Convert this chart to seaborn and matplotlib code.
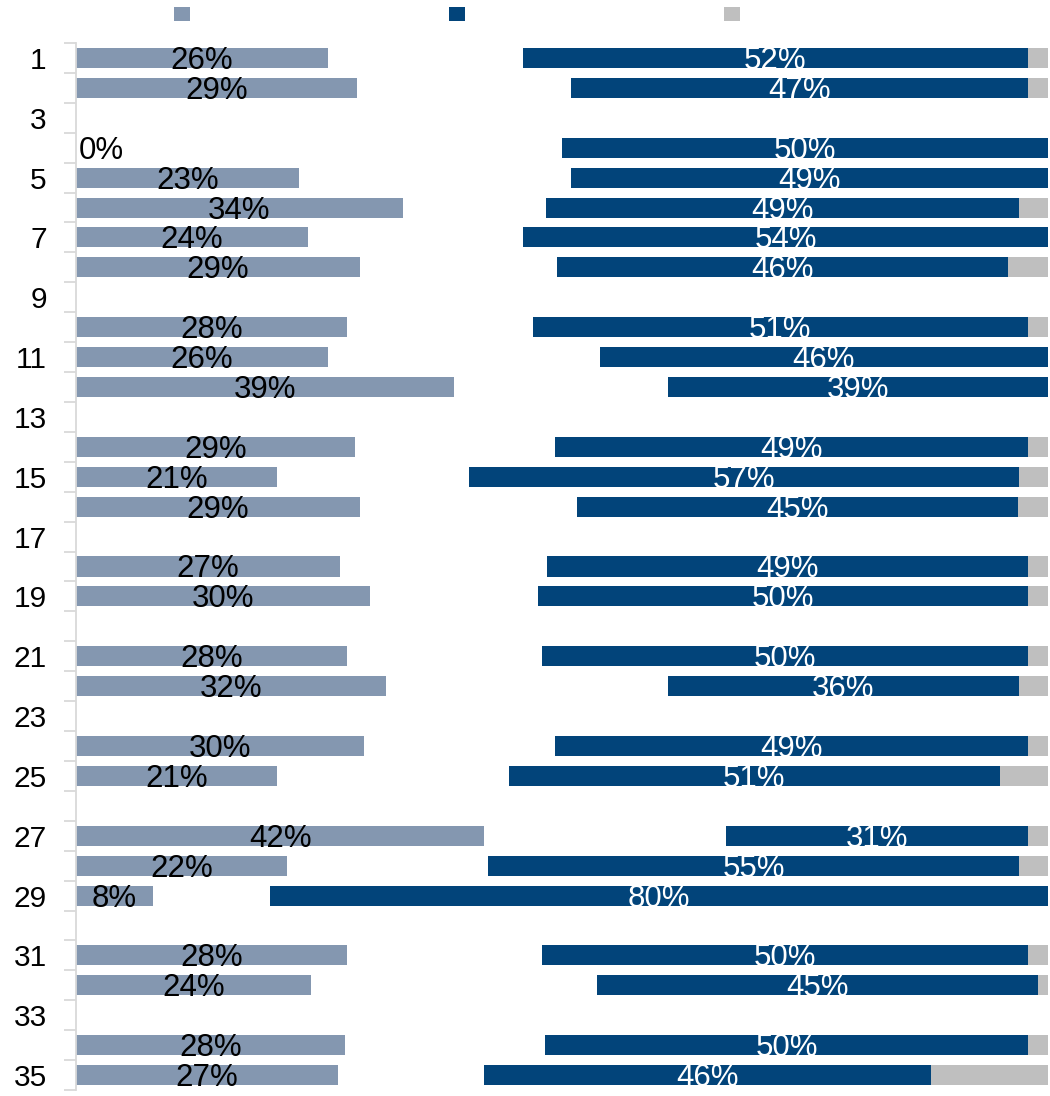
import numpy as np
import pandas as pd
import seaborn as sns
import matplotlib.pyplot as plt
from matplotlib.patches import Patch

sns.set_theme(style="white")
plt.rcParams['font.family'] = ['Liberation Sans', 'DejaVu Sans']

nan = np.nan
categories = [str(i) for i in range(1, 36)]
series_names = ["", "", ""]
slate_vals = [25.9, 28.9, nan, 0.0, 22.9, 33.6, 23.9, 29.2, nan, 27.9, 25.9, 38.9, nan,
              28.7, 20.7, 29.2, nan, 27.2, 30.2, nan, 27.9, 31.9, nan, 29.6, 20.7, nan,
              42.0, 21.7, 7.9, nan, 27.9, 24.2, nan, 27.7, 27.0]
navy_vals = [51.9, 47.0, nan, 50.0, 49.1, 48.6, 54.0, 46.4, nan, 50.9, 46.1, 39.1, nan,
             48.6, 56.6, 45.4, nan, 49.4, 50.4, nan, 50.0, 36.1, nan, 48.6, 50.6, nan,
             31.0, 54.6, 80.0, nan, 50.0, 45.4, nan, 49.6, 46.0]
grey_vals = [2.1, 2.1, nan, 0.0, 0.0, 3.0, 0.0, 4.1, nan, 2.1, 0.0, 0.0, nan,
             2.1, 3.0, 3.1, nan, 2.1, 2.1, nan, 2.1, 3.0, nan, 2.1, 4.9, nan,
             2.1, 3.0, 0.0, nan, 2.1, 1.0, nan, 2.1, 12.0]

SLATE = "#8497B0"
NAVY = "#02447A"
GREY = "#BFBFBF"
AXIS_GREY = "#D9D9D9"

df = pd.DataFrame({"cat": categories, "slate": slate_vals,
                   "navy": navy_vals, "grey": grey_vals})
plot = df.fillna(0)
navy_left = (100 - plot["grey"] - plot["navy"]).values
grey_left = (100 - plot["grey"]).values

fig = plt.figure(figsize=(10.5, 10.96), dpi=100)
ax = fig.add_axes([76 / 1050, 6 / 1096, 972 / 1050, 1047 / 1096])

common = dict(data=plot, y="cat", order=categories, orient="h", width=0.67,
              errorbar=None, saturation=1, ax=ax, linewidth=0)
sns.barplot(x="slate", color=SLATE, **common)
sns.barplot(x="navy", color=NAVY, left=navy_left, **common)
sns.barplot(x="grey", color=GREY, left=grey_left, **common)

# data labels
LABEL_SIZE = 22.5
for i, row in df.iterrows():
    if not np.isnan(row["slate"]):
        if row["slate"] == 0:
            ax.text(0.3, i + 0.1, f"{row['slate']:.0f}%", ha="left", va="center",
                    fontsize=LABEL_SIZE, color="black")
        else:
            ax.text(row["slate"] / 2, i + 0.1, f"{row['slate']:.0f}%", ha="center",
                    va="center", fontsize=LABEL_SIZE, color="black")
    if not np.isnan(row["navy"]):
        ax.text(navy_left[i] + row["navy"] / 2, i + 0.1, f"{row['navy']:.0f}%",
                ha="center", va="center", fontsize=LABEL_SIZE, color="white")

ax.set_xlim(0, 100)
ax.set_ylim(len(categories) - 0.5, -0.5)
ax.set_xticks([])
ax.set_xlabel("")
ax.set_ylabel("")
ax.set_yticks(range(0, len(categories), 2), labels=categories[::2])
ax.set_yticks(np.arange(-0.5, len(categories), 1), minor=True)
ax.tick_params(axis="y", which="major", length=0, pad=21, labelsize=21.5, labelcolor="black")
ax.tick_params(axis="y", which="minor", length=9, width=1.3, color=AXIS_GREY, left=True)
for s in ["top", "right", "bottom"]:
    ax.spines[s].set_visible(False)
ax.spines["left"].set_color(AXIS_GREY)
ax.spines["left"].set_linewidth(1.3)

handles = [Patch(facecolor=c, edgecolor="none") for c in (SLATE, NAVY, GREY)]
fig.legend(handles, series_names, ncol=3, loc="center",
           bbox_to_anchor=(457 / 1050, 1 - 15 / 1096), frameon=False,
           handlelength=1.0, handleheight=1.0, handletextpad=0.0,
           columnspacing=17.0, fontsize=11, borderpad=0)

fig.savefig("out.png", dpi=100)
